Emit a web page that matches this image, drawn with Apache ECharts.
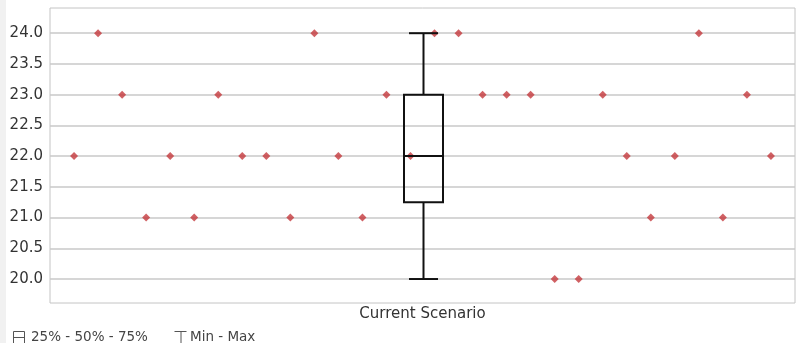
<!DOCTYPE html>
<html>
<head>
<meta charset="utf-8">
<script src="https://cdn.jsdelivr.net/npm/echarts@6/dist/echarts.min.js"></script>
<style>html,body{margin:0;padding:0;background:#fff}#c{width:796px;height:343px}</style>
</head>
<body>
<div id="c"></div>
<script>
// ---- data ----
var category = ['Current Scenario'];
var values = [22, 24, 23, 21, 22, 21, 23, 22, 22, 21, 24, 22, 21, 23, 22, 24, 24, 23, 23, 23, 20, 20, 23, 22, 21, 22, 24, 21, 23, 22];
var yTicks = [20.0, 20.5, 21.0, 21.5, 22.0, 22.5, 23.0, 23.5, 24.0];
var legendLabels = ['25% - 50% - 75%', 'Min - Max'];

function quantile(sorted, p) {
  var pos = (sorted.length - 1) * p, lo = Math.floor(pos), hi = Math.ceil(pos);
  return sorted[lo] + (sorted[hi] - sorted[lo]) * (pos - lo);
}
var sorted = values.slice().sort(function (a, b) { return a - b; });
var stats = [sorted[0], quantile(sorted, 0.25), quantile(sorted, 0.5), quantile(sorted, 0.75), sorted[sorted.length - 1]];
var boxX = (values.length - 1) / 2;

var font = 'DejaVu Sans';
var chart = echarts.init(document.getElementById('c'), null, { renderer: 'canvas' });
chart.setOption({
  animation: false,
  backgroundColor: '#fff',
  grid: { left: 50, right: 1, top: 8, bottom: 40, show: true, borderColor: '#c4c4c4', borderWidth: 1 },
  xAxis: [
    { type: 'value', min: -1, max: values.length, show: false },
    { type: 'category', data: category, position: 'bottom', axisLine: { show: false }, axisTick: { show: false },
      axisLabel: { color: '#333', fontFamily: font, fontSize: 15, margin: 4 } }
  ],
  yAxis: {
    type: 'value', min: 19.61, max: 24.41,
    axisLine: { show: false },
    axisTick: { show: false, customValues: yTicks },
    axisLabel: { customValues: yTicks, color: '#333', fontFamily: font, fontSize: 15, margin: 7,
      formatter: function (v) { return v.toFixed(1); } },
    splitLine: { show: false }
  },
  series: [
    {
      type: 'scatter', xAxisIndex: 0, symbol: 'diamond', symbolSize: 8,
      itemStyle: { color: '#c4383c' },
      data: values.map(function (v, i) { return [i, v]; }),
      markLine: {
        silent: true, symbol: 'none', label: { show: false },
        lineStyle: { color: '#c8c8c8', width: 1.5, type: 'solid' },
        data: yTicks.map(function (t) { return { yAxis: t }; }),
        z: 1
      },
      z: 3
    },
    {
      type: 'custom', xAxisIndex: 0, z: 4,
      data: [[boxX].concat(stats)],
      renderItem: function (params, api) {
        var x = api.value(0);
        var pMin = api.coord([x, api.value(1)]);
        var pQ1 = api.coord([x, api.value(2)]);
        var pMed = api.coord([x, api.value(3)]);
        var pQ3 = api.coord([x, api.value(4)]);
        var pMax = api.coord([x, api.value(5)]);
        var cx = pMed[0] + 1, hw = 19.5, cw = 14.5;
        var st = { stroke: '#111', lineWidth: 2, fill: 'none' };
        return { type: 'group', children: [
          { type: 'rect', shape: { x: cx - hw, y: pQ3[1], width: hw * 2, height: pQ1[1] - pQ3[1] }, style: { stroke: '#111', lineWidth: 2, fill: 'rgba(255,255,255,0)' } },
          { type: 'line', shape: { x1: cx - hw, y1: pMed[1], x2: cx + hw, y2: pMed[1] }, style: st },
          { type: 'line', shape: { x1: cx, y1: pQ3[1], x2: cx, y2: pMax[1] }, style: st },
          { type: 'line', shape: { x1: cx, y1: pQ1[1], x2: cx, y2: pMin[1] }, style: st },
          { type: 'line', shape: { x1: cx - cw, y1: pMax[1], x2: cx + cw, y2: pMax[1] }, style: st },
          { type: 'line', shape: { x1: cx - cw, y1: pMin[1], x2: cx + cw, y2: pMin[1] }, style: st }
        ] };
      }
    }
  ],
  graphic: [
    { type: 'rect', left: 0, top: 0, shape: { width: 6, height: 343 }, style: { fill: '#f1f1f1' }, z: -1 },
    { type: 'group', left: 11, top: 329, children: [
      { type: 'rect', shape: { x: 0.5, y: 0.5, width: 11, height: 12 }, style: { stroke: '#555', lineWidth: 1, fill: 'none' } },
      { type: 'line', shape: { x1: 0.5, y1: 6.5, x2: 11.5, y2: 6.5 }, style: { stroke: '#555', lineWidth: 1 } }
    ] },
    { type: 'text', left: 31, top: 330, style: { text: legendLabels[0], fill: '#444', font: '13.5px "DejaVu Sans"' } },
    { type: 'group', left: 172, top: 329, children: [
      { type: 'line', shape: { x1: 0, y1: 0.5, x2: 12, y2: 0.5 }, style: { stroke: '#555', lineWidth: 1 } },
      { type: 'line', shape: { x1: 6.5, y1: 0.5, x2: 6.5, y2: 12.5 }, style: { stroke: '#555', lineWidth: 1 } },
      { type: 'line', shape: { x1: 0, y1: 12.5, x2: 12, y2: 12.5 }, style: { stroke: '#555', lineWidth: 1 } }
    ] },
    { type: 'text', left: 190, top: 330, style: { text: legendLabels[1], fill: '#444', font: '13.5px "DejaVu Sans"' } }
  ]
});
</script>
</body>
</html>
